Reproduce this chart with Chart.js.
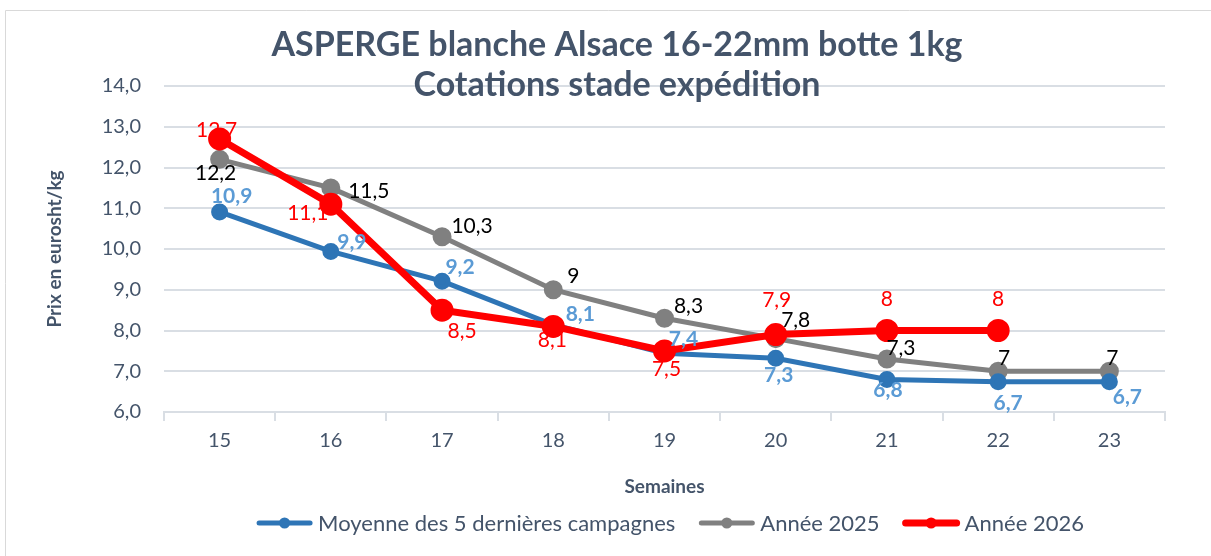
<!DOCTYPE html>
<html>
<head>
    <script src="https://cdn.jsdelivr.net/npm/chart.js@4.4.1/dist/chart.umd.min.js"></script>
    <style>
        body {
            margin: 0;
            background: white;
        }
        canvas {
            display: block;
        }
    </style>
</head>
<body>
    <canvas id="aspergeChart" width="1211" height="556"></canvas>

    <script>
        // données
        const semaines = ['15', '16', '17', '18', '19', '20', '21', '22', '23'];
        const moyenne5 = [10.91, 9.94, 9.21, 8.14, 7.44, 7.32, 6.80, 6.74, 6.74];
        const annee2025 = [12.2, 11.5, 10.3, 9, 8.3, 7.8, 7.3, 7, 7];
        const annee2026 = [12.7, 11.1, 8.5, 8.1, 7.5, 7.9, 8, 8, null];
        const yTicks = [6, 7, 8, 9, 10, 11, 12, 13, 14];

        const txtColor = '#44546A';
        const gridColor = '#D9DEE4';
        const fontFamily = 'Lato, "Open Sans", sans-serif';

        // décalage des étiquettes par rapport au point (dx, dy)
        const labelOffsets = [
            [[12, -16], [21, -9], [18, -14], [27, -11], [19, -14], [3, 17], [1, 11], [10, 21], [18, 15]],
            [[-4, 14], [38, 3], [30, -11], [20, -14], [24, -12], [20, -18], [14, -11], [6, -13], [3, -13]],
            [[-3, -9], [-23, 9], [20, 21], [-1, 14], [2, 18], [1, -34], [0, -31], [0, -31], [0, 0]]
        ];

        const fmtGeneral = v => String(v).replace('.', ',');
        const fmtOne = v => v.toFixed(1).replace('.', ',');

        const data = {
            labels: semaines,
            datasets: [
                {
                    label: 'Moyenne des 5 dernières campagnes',
                    data: moyenne5,
                    borderColor: '#2E75B6',
                    backgroundColor: '#2E75B6',
                    borderWidth: 5,
                    pointRadius: 6,
                    order: 2,
                    lblColor: '#5B9BD5',
                    lblBold: true,
                    fmt: fmtOne
                },
                {
                    label: 'Année 2025',
                    data: annee2025,
                    borderColor: '#808080',
                    backgroundColor: '#808080',
                    borderWidth: 5,
                    pointRadius: 7,
                    order: 3,
                    lblColor: '#000000',
                    lblBold: false,
                    fmt: fmtGeneral
                },
                {
                    label: 'Année 2026',
                    data: annee2026,
                    borderColor: '#FF0000',
                    backgroundColor: '#FF0000',
                    borderWidth: 7,
                    pointRadius: 8,
                    order: 1,
                    lblColor: '#FF0000',
                    lblBold: false,
                    fmt: fmtGeneral
                }
            ]
        };

        const decorPlugin = {
            id: 'decor',
            beforeDraw(chart) {
                const c = chart.ctx;
                c.save();
                c.strokeStyle = '#D9D9D9';
                c.lineWidth = 1;
                c.beginPath();
                c.moveTo(5.5, 556);
                c.lineTo(5.5, 10.5);
                c.lineTo(1211, 10.5);
                c.stroke();
                c.restore();
            },
            afterDraw(chart) {
                const c = chart.ctx;
                c.save();
                // titre
                c.fillStyle = txtColor;
                c.font = 'bold 34px ' + fontFamily;
                c.textAlign = 'center';
                c.textBaseline = 'middle';
                c.fillText('ASPERGE blanche Alsace 16-22mm botte 1kg', 617, 45);
                c.fillText('Cotations stade expédition', 617, 85);

                // légende
                c.font = '22px ' + fontFamily;
                c.textAlign = 'left';
                const mark = 57, gap = 5, between = 23;
                const widths = chart.data.datasets.map(ds => c.measureText(ds.label).width);
                let total = 0;
                widths.forEach(w => total += mark + gap + w);
                total += between * (widths.length - 1);
                let x = 670 - total / 2;
                const y = 523;
                chart.data.datasets.forEach((ds, i) => {
                    c.strokeStyle = ds.borderColor;
                    c.lineWidth = ds.borderWidth;
                    c.lineCap = 'round';
                    c.beginPath();
                    c.moveTo(x + 3, y);
                    c.lineTo(x + mark - 3, y);
                    c.stroke();
                    c.fillStyle = ds.borderColor;
                    c.beginPath();
                    c.arc(x + mark / 2, y, 5.5, 0, Math.PI * 2);
                    c.fill();
                    c.fillStyle = txtColor;
                    c.fillText(ds.label, x + mark + gap, y + 1);
                    x += mark + gap + widths[i] + between;
                });
                c.restore();
            },
            afterDatasetsDraw(chart) {
                const c = chart.ctx;
                c.save();
                c.textAlign = 'center';
                c.textBaseline = 'middle';
                chart.data.datasets.forEach((ds, di) => {
                    const meta = chart.getDatasetMeta(di);
                    c.font = (ds.lblBold ? 'bold ' : '') + '21px ' + fontFamily;
                    c.fillStyle = ds.lblColor;
                    meta.data.forEach((pt, i) => {
                        const v = ds.data[i];
                        if (v === null || v === undefined) return;
                        const off = labelOffsets[di][i];
                        c.fillText(ds.fmt(v), pt.x + off[0], pt.y + off[1]);
                    });
                });
                c.restore();
            }
        };

        const config = {
            type: 'line',
            data: data,
            plugins: [decorPlugin],
            options: {
                responsive: false,
                animation: false,
                layout: {
                    padding: { top: 86, right: 46, bottom: 44, left: 0 }
                },
                elements: {
                    line: { tension: 0, fill: false },
                    point: { borderWidth: 0, hoverRadius: 8 }
                },
                scales: {
                    x: {
                        offset: true,
                        grid: {
                            offset: true,
                            drawOnChartArea: false,
                            color: gridColor,
                            lineWidth: 2,
                            tickLength: 9
                        },
                        border: { color: gridColor, width: 2 },
                        ticks: {
                            color: txtColor,
                            font: { family: fontFamily, size: 20 },
                            padding: 8
                        },
                        title: {
                            display: true,
                            text: 'Semaines',
                            color: txtColor,
                            font: { family: fontFamily, size: 19, weight: 'bold' },
                            padding: { top: 0, bottom: 14 }
                        },
                        afterFit(scale) { scale.height = 100; }
                    },
                    y: {
                        min: 6,
                        max: 14,
                        afterBuildTicks(scale) {
                            scale.ticks = yTicks.map(v => ({ value: v }));
                        },
                        grid: {
                            color: gridColor,
                            lineWidth: 2,
                            drawTicks: false
                        },
                        border: { display: false },
                        ticks: {
                            color: txtColor,
                            font: { family: fontFamily, size: 20 },
                            padding: 23,
                            callback: v => v.toFixed(1).replace('.', ',')
                        },
                        title: {
                            display: true,
                            text: 'Prix en eurosht/kg',
                            color: txtColor,
                            font: { family: fontFamily, size: 19, weight: 'bold' },
                            padding: { top: 43, bottom: 0 }
                        },
                        afterFit(scale) { scale.width = 164; }
                    }
                },
                plugins: {
                    legend: { display: false },
                    title: { display: false },
                    tooltip: { enabled: false }
                }
            }
        };

        new Chart(document.getElementById('aspergeChart').getContext('2d'), config);
    </script>
</body>
</html>
